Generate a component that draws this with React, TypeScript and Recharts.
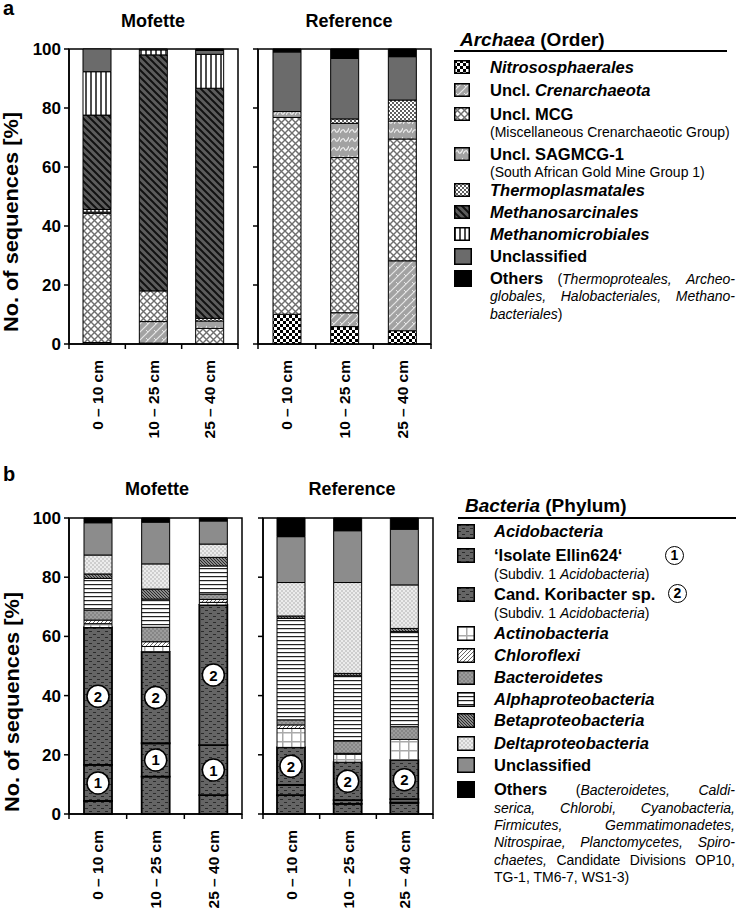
import { BarChart, Bar, XAxis, YAxis, ReferenceArea, LabelList } from "recharts"

const FONT = "'Liberation Sans', Arial, Helvetica, sans-serif"

const depths = ["0 – 10 cm", "10 – 25 cm", "25 – 40 cm"]
const yTicks = [0, 20, 40, 60, 80, 100]
const xTicks = [0, 0.5, 1, 1.5, 2, 2.5, 3]

// Archaea (order) – Mofette, values for 0–10, 10–25, 25–40 cm
const aMofNitro = [0, 0.3, 0]
const aMofCren = [0.5, 7.3, 0]
const aMofMcg = [43.8, 10.4, 5.3]
const aMofSag = [0.4, 0, 2.5]
const aMofThermo = [0.9, 0, 0.9]
const aMofMsarc = [32.0, 80.0, 78.0]
const aMofMmicro = [14.7, 1.7, 11.5]
const aMofUncl = [7.7, 0.3, 1.3]
const aMofOthers = [0, 0, 0.5]

// Archaea (order) – Reference
const aRefNitro = [10.1, 5.9, 4.5]
const aRefCren = [0, 4.7, 23.7]
const aRefMcg = [66.7, 52.6, 41.3]
const aRefSag = [2.0, 11.6, 6.1]
const aRefThermo = [0, 1.5, 7.1]
const aRefMsarc = [0, 0, 0]
const aRefMmicro = [0, 0, 0]
const aRefUncl = [20.2, 20.5, 14.7]
const aRefOthers = [1.0, 3.2, 2.6]

// Bacteria (phylum) – Mofette
const bMofAcido = [4.4, 12.6, 6.4]
const bMofEllin = [12.2, 11.3, 16.9]
const bMofKori = [46.4, 30.9, 47.3]
const bMofActino = [1.3, 1.8, 0.9]
const bMofChloro = [1.2, 1.6, 1.0]
const bMofBactero = [3.4, 4.9, 1.8]
const bMofAlpha = [10.7, 9.5, 9.5]
const bMofBeta = [1.5, 3.4, 2.9]
const bMofDelta = [6.4, 8.5, 4.5]
const bMofUncl = [10.9, 14.1, 7.8]
const bMofOthers = [1.6, 1.4, 1.0]

// Bacteria (phylum) – Reference
const bRefAcido = [6.4, 3.4, 3.8]
const bRefEllin = [3.4, 1.3, 1.2]
const bRefKori = [12.7, 12.8, 13.2]
const bRefActino = [6.4, 2.7, 7.0]
const bRefChloro = [1.2, 0.3, 0]
const bRefBactero = [1.7, 4.2, 4.3]
const bRefAlpha = [34.3, 22.0, 32.1]
const bRefBeta = [0.8, 0.8, 1.1]
const bRefDelta = [11.3, 30.7, 14.7]
const bRefUncl = [15.5, 17.5, 18.8]
const bRefOthers = [6.3, 4.3, 3.8]

const archaeaKeys = ["nitro", "cren", "mcg", "sag", "thermo", "msarc", "mmicro", "uncl", "others"]
const bacteriaKeys = ["acido", "ellin", "kori", "actino", "chloro", "bactero", "alpha", "beta", "delta", "unclB", "othersB"]

function buildRows(keys: string[], cols: number[][]) {
  return depths.map((depth, i) => {
    const row: Record<string, string | number> = { depth, pos: i + 0.5 }
    keys.forEach((k, j) => {
      row[k] = cols[j][i]
    })
    return row
  })
}

const archMofRows = buildRows(archaeaKeys, [aMofNitro, aMofCren, aMofMcg, aMofSag, aMofThermo, aMofMsarc, aMofMmicro, aMofUncl, aMofOthers])
const archRefRows = buildRows(archaeaKeys, [aRefNitro, aRefCren, aRefMcg, aRefSag, aRefThermo, aRefMsarc, aRefMmicro, aRefUncl, aRefOthers])
const bactMofRows = buildRows(bacteriaKeys, [bMofAcido, bMofEllin, bMofKori, bMofActino, bMofChloro, bMofBactero, bMofAlpha, bMofBeta, bMofDelta, bMofUncl, bMofOthers])
const bactRefRows = buildRows(bacteriaKeys, [bRefAcido, bRefEllin, bRefKori, bRefActino, bRefChloro, bRefBactero, bRefAlpha, bRefBeta, bRefDelta, bRefUncl, bRefOthers])

const fills: Record<string, string> = {
  nitro: "url(#p-nitro)",
  cren: "url(#p-cren)",
  mcg: "url(#p-mcg)",
  sag: "url(#p-sag)",
  thermo: "url(#p-thermo)",
  msarc: "url(#p-msarc)",
  mmicro: "url(#p-mmicro)",
  uncl: "#6b6b6b",
  others: "#000",
  acido: "url(#p-acido)",
  ellin: "url(#p-acido)",
  kori: "url(#p-acido)",
  actino: "url(#p-actino)",
  chloro: "url(#p-chloro)",
  bactero: "url(#p-bactero)",
  alpha: "url(#p-alpha)",
  beta: "url(#p-beta)",
  delta: "url(#p-delta)",
  unclB: "#8c8c8c",
  othersB: "#000",
}

const thickEdge = new Set(["acido", "ellin", "kori"])

function PatternDefs() {
  return (
    <svg width={0} height={0} style={{ position: "absolute", left: 0, top: 0 }}>
      <defs>
        <pattern id="p-nitro" width={6} height={6} patternUnits="userSpaceOnUse">
          <rect width={6} height={6} fill="#fff" />
          <rect width={3} height={3} fill="#000" />
          <rect x={3} y={3} width={3} height={3} fill="#000" />
        </pattern>
        <pattern id="p-cren" width={8} height={8} patternUnits="userSpaceOnUse">
          <rect width={8} height={8} fill="#a2a2a2" />
          <path d="M0,8 L8,0 M-2,2 L2,-2 M6,10 L10,6" stroke="#e6e6e6" strokeWidth={1.2} />
          <path d="M2,2 L4,4" stroke="#e6e6e6" strokeWidth={1} />
        </pattern>
        <pattern id="p-mcg" width={7} height={7} patternUnits="userSpaceOnUse">
          <rect width={7} height={7} fill="#fff" />
          <path d="M0,0 L7,7 M7,0 L0,7" stroke="#6e6e6e" strokeWidth={1.4} />
        </pattern>
        <pattern id="p-sag" width={9} height={9} patternUnits="userSpaceOnUse">
          <rect width={9} height={9} fill="#a2a2a2" />
          <path d="M0,7 C2,3 4,3 4.5,5 S7,7 9,2" stroke="#ececec" strokeWidth={1.2} fill="none" />
        </pattern>
        <pattern id="p-thermo" width={4} height={4} patternUnits="userSpaceOnUse">
          <rect width={4} height={4} fill="#fff" />
          <circle cx={1} cy={1} r={0.9} fill="#111" />
          <circle cx={3} cy={3} r={0.9} fill="#111" />
        </pattern>
        <pattern id="p-msarc" width={7} height={7} patternUnits="userSpaceOnUse">
          <rect width={7} height={7} fill="#5c5c5c" />
          <path d="M-1,-1 L8,8 M-1,6 L1,8 M6,-1 L8,1" stroke="#111" strokeWidth={2} />
        </pattern>
        <pattern id="p-mmicro" width={5} height={5} patternUnits="userSpaceOnUse">
          <rect width={5} height={5} fill="#fff" />
          <line x1={1} y1={0} x2={1} y2={5} stroke="#111" strokeWidth={1.5} />
        </pattern>
        <pattern id="p-acido" width={8} height={6} patternUnits="userSpaceOnUse">
          <rect width={8} height={6} fill="#656565" />
          <path d="M1,1.5 h3 M5,4.5 h3" stroke="#2a2a2a" strokeWidth={1} />
        </pattern>
        <pattern id="p-actino" width={9} height={9} patternUnits="userSpaceOnUse">
          <rect width={9} height={9} fill="#fff" />
          <path d="M0,0.75 H9 M0.75,0 V9" stroke="#aaa" strokeWidth={1.5} />
        </pattern>
        <pattern id="p-chloro" width={4} height={4} patternUnits="userSpaceOnUse">
          <rect width={4} height={4} fill="#fff" />
          <path d="M0,4 L4,0 M-1,1 L1,-1 M3,5 L5,3" stroke="#666" strokeWidth={1} />
        </pattern>
        <pattern id="p-bactero" width={4} height={4} patternUnits="userSpaceOnUse">
          <rect width={4} height={4} fill="#9c9c9c" />
          <circle cx={1} cy={1} r={0.8} fill="#6a6a6a" />
          <circle cx={3} cy={3} r={0.8} fill="#6a6a6a" />
        </pattern>
        <pattern id="p-alpha" width={4} height={4} patternUnits="userSpaceOnUse">
          <rect width={4} height={4} fill="#fff" />
          <line x1={0} y1={0.6} x2={4} y2={0.6} stroke="#222" strokeWidth={1.2} />
        </pattern>
        <pattern id="p-beta" width={3} height={3} patternUnits="userSpaceOnUse">
          <rect width={3} height={3} fill="#8a8a8a" />
          <path d="M-1,-1 L4,4 M-1,2 L1,4 M2,-1 L4,1" stroke="#2a2a2a" strokeWidth={1} />
        </pattern>
        <pattern id="p-delta" width={4} height={4} patternUnits="userSpaceOnUse">
          <rect width={4} height={4} fill="#ececec" />
          <circle cx={1} cy={1} r={0.7} fill="#999" />
          <circle cx={3} cy={3} r={0.7} fill="#999" />
        </pattern>
      </defs>
    </svg>
  )
}

function DepthTick(props: any) {
  const { x, y, payload } = props
  const v = payload.value as number
  if (Number.isInteger(v)) {
    return <line x1={x} y1={y} x2={x} y2={y + 5} stroke="#000" strokeWidth={1.5} />
  }
  const ty = y + 16
  return (
    <text
      x={x}
      y={ty}
      transform={`rotate(-90 ${x} ${ty})`}
      textAnchor="end"
      dominantBaseline="central"
      fontSize={15.5}
      fontWeight="bold"
      fill="#000"
      fontFamily={FONT}
    >
      {depths[Math.floor(v)]}
    </text>
  )
}

const circleLabel = (num: string) => (props: any) => {
  const vb = props.viewBox && props.viewBox.width != null ? props.viewBox : props
  const cx = vb.x + vb.width / 2
  const cy = vb.y + vb.height / 2
  return (
    <g>
      <circle cx={cx} cy={cy} r={11} fill="#fff" stroke="#000" strokeWidth={1.5} />
      <text x={cx} y={cy} textAnchor="middle" dominantBaseline="central" fontSize={15} fontWeight="bold" fill="#000" fontFamily={FONT}>
        {num}
      </text>
    </g>
  )
}

interface StackChartProps {
  rows: Record<string, string | number>[]
  keys: string[]
  width: number
  height: number
  marginTop: number
  marginRight: number
  yWidth: number
  yLabels: boolean
  ellinMark?: boolean
}

function StackChart({ rows, keys, width, height, marginTop, marginRight, yWidth, yLabels, ellinMark }: StackChartProps) {
  return (
    <BarChart
      width={width}
      height={height}
      data={rows}
      margin={{ top: marginTop, right: marginRight, bottom: 0, left: 0 }}
      barSize={28}
      style={{ fontFamily: FONT }}
    >
      <XAxis
        xAxisId="n"
        type="number"
        dataKey="pos"
        domain={[0, 3]}
        ticks={xTicks}
        interval={0}
        allowDataOverflow
        height={95}
        tickLine={false}
        tickSize={0}
        tickMargin={0}
        tick={<DepthTick />}
        axisLine={{ stroke: "#000", strokeWidth: 1.5 }}
      />
      <XAxis xAxisId="c" type="category" dataKey="depth" hide height={0} />
      <YAxis
        type="number"
        domain={[0, 100]}
        ticks={yTicks}
        interval={0}
        width={yWidth}
        tickSize={5}
        tickMargin={3}
        axisLine={{ stroke: "#000", strokeWidth: 1.5 }}
        tickLine={{ stroke: "#000", strokeWidth: 1.5 }}
        tick={{ fill: "#000", fontSize: 17, fontWeight: "bold", fontFamily: FONT }}
        tickFormatter={(v) => (yLabels ? String(v) : "")}
      />
      <ReferenceArea xAxisId="n" x1={0} x2={3} y1={0} y2={100} fill="none" stroke="#000" strokeWidth={1.5} ifOverflow="visible" />
      {keys.map((k) => (
        <Bar
          key={k}
          xAxisId="c"
          dataKey={k}
          stackId="s"
          fill={fills[k]}
          stroke="#000"
          strokeWidth={thickEdge.has(k) ? 1.8 : 1}
          isAnimationActive={false}
        >
          {k === "kori" && <LabelList dataKey="kori" content={circleLabel("2")} />}
          {k === "ellin" && ellinMark && <LabelList dataKey="ellin" content={circleLabel("1")} />}
        </Bar>
      ))}
    </BarChart>
  )
}

function Swatch({ left, cy, w, h, fill }: { left: number; cy: number; w: number; h: number; fill: string }) {
  return (
    <svg width={w} height={h} style={{ position: "absolute", left, top: cy - h / 2 }}>
      <rect x={0.75} y={0.75} width={w - 1.5} height={h - 1.5} fill={fill} stroke="#000" strokeWidth={1.5} />
    </svg>
  )
}

function Line({ left, cy, size, bold, children, width }: any) {
  return (
    <div
      style={{
        position: "absolute",
        left,
        top: cy - 11,
        height: 22,
        lineHeight: "22px",
        fontSize: size,
        fontWeight: bold ? "bold" : "normal",
        whiteSpace: "nowrap",
        width,
        display: width ? "flex" : "block",
        justifyContent: "space-between",
        alignItems: "baseline",
      }}
    >
      {children}
    </div>
  )
}

const MAIN = 16.5
const SUB = 14

function CircleMark({ cx, cy, n }: { cx: number; cy: number; n: string }) {
  return (
    <div
      style={{
        position: "absolute",
        left: cx - 10,
        top: cy - 10,
        width: 17,
        height: 17,
        border: "1.5px solid #000",
        borderRadius: "50%",
        fontSize: 14,
        fontWeight: "bold",
        lineHeight: "17px",
        textAlign: "center",
      }}
    >
      {n}
    </div>
  )
}

function ArchaeaLegend() {
  const sx = 454
  const tx = 490
  return (
    <>
      <Line left={460} cy={40} size={19} bold>
        <i>Archaea</i> (Order)
      </Line>
      <div style={{ position: "absolute", left: 454, top: 50, width: 273, height: 2, background: "#000" }} />
      <Swatch left={sx} cy={66.7} w={16} h={14} fill={fills.nitro} />
      <Line left={tx} cy={66.7} size={MAIN} bold><i>Nitrososphaerales</i></Line>
      <Swatch left={sx} cy={90} w={16} h={14} fill={fills.cren} />
      <Line left={tx} cy={90} size={MAIN} bold>Uncl. <i>Crenarchaeota</i></Line>
      <Swatch left={sx} cy={114} w={16} h={14} fill={fills.mcg} />
      <Line left={tx} cy={114} size={MAIN} bold>Uncl. MCG</Line>
      <Line left={tx} cy={132} size={SUB}>(Miscellaneous Crenarchaeotic Group)</Line>
      <Swatch left={sx} cy={154} w={16} h={14} fill={fills.sag} />
      <Line left={tx} cy={154} size={MAIN} bold>Uncl. SAGMCG-1</Line>
      <Line left={tx} cy={172} size={SUB}>(South African Gold Mine Group 1)</Line>
      <Swatch left={sx} cy={190} w={16} h={14} fill={fills.thermo} />
      <Line left={tx} cy={190} size={MAIN} bold><i>Thermoplasmatales</i></Line>
      <Swatch left={sx} cy={212} w={16} h={14} fill={fills.msarc} />
      <Line left={tx} cy={212} size={MAIN} bold><i>Methanosarcinales</i></Line>
      <Swatch left={sx} cy={234} w={16} h={14} fill={fills.mmicro} />
      <Line left={tx} cy={234} size={MAIN} bold><i>Methanomicrobiales</i></Line>
      <Swatch left={sx} cy={256} w={18} h={17} fill={fills.uncl} />
      <Line left={tx} cy={256} size={MAIN} bold>Unclassified</Line>
      <Swatch left={sx} cy={278} w={18} h={17} fill="#000" />
      <Line left={tx} cy={278} size={SUB} width={245}>
        <b style={{ fontSize: MAIN }}>Others</b>
        <span>(<i>Thermoproteales,</i></span>
        <i>Archeo-</i>
      </Line>
      <Line left={tx} cy={296} size={SUB} width={245}>
        <i>globales,</i>
        <i>Halobacteriales,</i>
        <i>Methano-</i>
      </Line>
      <Line left={tx} cy={314} size={SUB}>
        <i>bacteriales</i>)
      </Line>
    </>
  )
}

function BacteriaLegend() {
  const sx = 457
  const tx = 494
  const rows: [string, number, any][] = [
    ["acido", 531, <i>Acidobacteria</i>],
    ["ellin", 555, <>‘Isolate Ellin624‘</>],
    ["kori", 594, <>Cand. Koribacter sp.</>],
    ["actino", 633, <i>Actinobacteria</i>],
    ["chloro", 655, <i>Chloroflexi</i>],
    ["bactero", 677, <i>Bacteroidetes</i>],
    ["alpha", 699, <i>Alphaproteobacteria</i>],
    ["beta", 720, <i>Betaproteobacteria</i>],
    ["delta", 743, <i>Deltaproteobacteria</i>],
  ]
  return (
    <>
      <Line left={465} cy={506} size={19} bold>
        <i>Bacteria</i> (Phylum)
      </Line>
      <div style={{ position: "absolute", left: 458, top: 517, width: 278, height: 2, background: "#000" }} />
      {rows.map(([k, cy, label]) => (
        <div key={k}>
          <Swatch left={sx} cy={cy} w={18} h={15} fill={fills[k]} />
          <Line left={tx} cy={cy} size={MAIN} bold>{label}</Line>
        </div>
      ))}
      <CircleMark cx={675} cy={556} n="1" />
      <CircleMark cx={678} cy={594} n="2" />
      <Line left={tx} cy={574} size={SUB}>(Subdiv. 1 <i>Acidobacteria</i>)</Line>
      <Line left={tx} cy={613} size={SUB}>(Subdiv. 1 <i>Acidobacteria</i>)</Line>
      <Swatch left={sx} cy={765} w={18} h={16} fill={fills.unclB} />
      <Line left={tx} cy={765} size={MAIN} bold>Unclassified</Line>
      <Swatch left={sx} cy={789} w={18} h={17} fill="#000" />
      <Line left={tx} cy={789} size={SUB} width={241}>
        <b style={{ fontSize: MAIN }}>Others</b>
        <span>(<i>Bacteroidetes,</i></span>
        <i>Caldi-</i>
      </Line>
      <Line left={tx} cy={808} size={SUB} width={241}>
        <i>serica,</i>
        <i>Chlorobi,</i>
        <i>Cyanobacteria,</i>
      </Line>
      <Line left={tx} cy={825} size={SUB} width={241}>
        <i>Firmicutes,</i>
        <i>Gemmatimonadetes,</i>
      </Line>
      <Line left={tx} cy={842} size={SUB} width={241}>
        <i>Nitrospirae,</i>
        <i>Planctomycetes,</i>
        <i>Spiro-</i>
      </Line>
      <Line left={tx} cy={860} size={SUB} width={241}>
        <i>chaetes,</i>
        <span>Candidate</span>
        <span>Divisions</span>
        <span>OP10,</span>
      </Line>
      <Line left={tx} cy={877} size={SUB}>TG-1, TM6-7, WS1-3)</Line>
    </>
  )
}

function Title({ cx, cy, text, size = 18 }: { cx: number; cy: number; text: string; size?: number }) {
  return (
    <div
      style={{
        position: "absolute",
        left: cx - 100,
        width: 200,
        top: cy - 12,
        lineHeight: "24px",
        textAlign: "center",
        fontSize: size,
        fontWeight: "bold",
      }}
    >
      {text}
    </div>
  )
}

export default function App() {
  return (
    <div
      style={{
        position: "absolute",
        left: 0,
        top: 0,
        width: 736,
        height: 909,
        overflow: "hidden",
        background: "#fff",
        fontFamily: FONT,
        color: "#000",
      }}
    >
      <PatternDefs />

      <Title cx={153} cy={21} text="Mofette" />
      <Title cx={349} cy={21} text="Reference" />
      <Title cx={157} cy={489} text="Mofette" />
      <Title cx={352} cy={489} text="Reference" />

      <svg width={30} height={909} style={{ position: "absolute", left: 0, top: 0 }}>
        <text x={3} y={15} fontSize={20} fontWeight="bold" fontFamily={FONT}>a</text>
        <text x={3} y={481} fontSize={20} fontWeight="bold" fontFamily={FONT}>b</text>
        <text x={11} y={222} transform="rotate(-90 11 222)" textAnchor="middle" dominantBaseline="central" fontSize={20} fontWeight="bold" fontFamily={FONT} textLength={220} lengthAdjust="spacingAndGlyphs">
          No. of sequences [%]
        </text>
        <text x={12} y={702} transform="rotate(-90 12 702)" textAnchor="middle" dominantBaseline="central" fontSize={20} fontWeight="bold" fontFamily={FONT} textLength={220} lengthAdjust="spacingAndGlyphs">
          No. of sequences [%]
        </text>
      </svg>

      <div style={{ position: "absolute", left: 0, top: 0 }}>
        <StackChart rows={archMofRows} keys={archaeaKeys} width={245} height={439} marginTop={49} marginRight={7} yWidth={69} yLabels />
      </div>
      <div style={{ position: "absolute", left: 250, top: 0 }}>
        <StackChart rows={archRefRows} keys={archaeaKeys} width={186} height={439} marginTop={49} marginRight={5} yWidth={8} yLabels={false} />
      </div>
      <div style={{ position: "absolute", left: 0, top: 480 }}>
        <StackChart rows={bactMofRows} keys={bacteriaKeys} width={248} height={429} marginTop={38} marginRight={6} yWidth={69} yLabels ellinMark />
      </div>
      <div style={{ position: "absolute", left: 255, top: 480 }}>
        <StackChart rows={bactRefRows} keys={bacteriaKeys} width={183} height={429} marginTop={38} marginRight={5} yWidth={8} yLabels={false} />
      </div>

      <ArchaeaLegend />
      <BacteriaLegend />
    </div>
  )
}
